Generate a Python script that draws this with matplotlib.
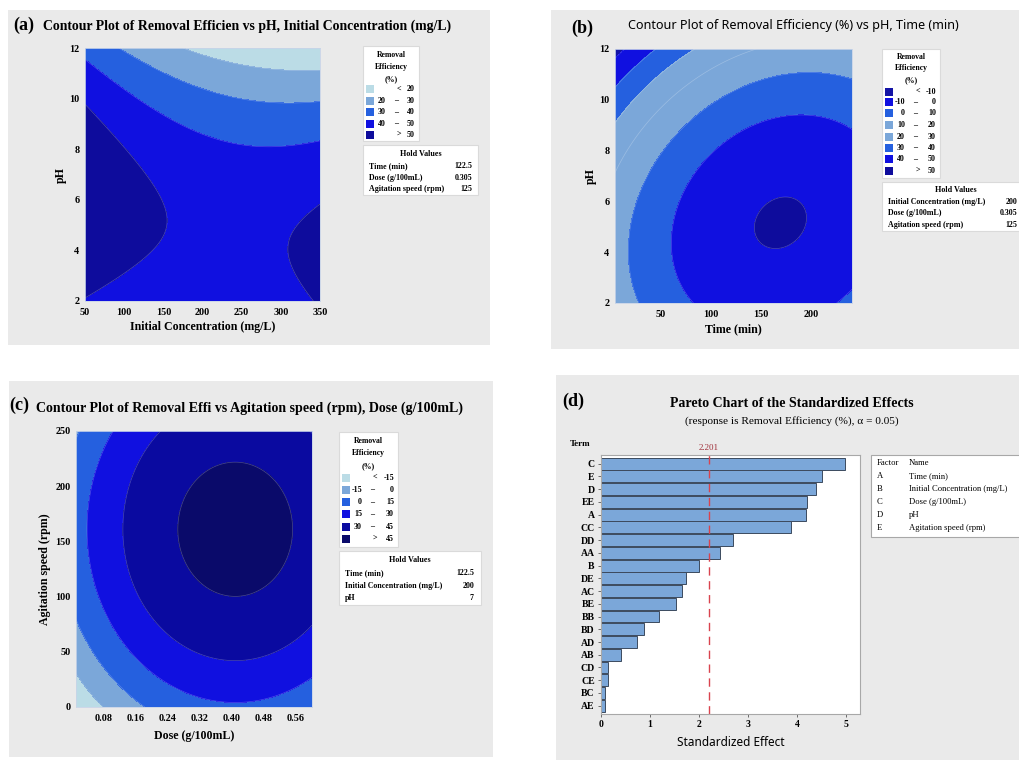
import numpy as np
import matplotlib
matplotlib.use("Agg")
import matplotlib.pyplot as plt
from matplotlib.patches import Rectangle

W, H = 1019, 760

# ---------------- data ----------------
# Panel (a): Initial Concentration (mg/L) x pH ; quadratic model in coded units
conc_range = [50, 350]
ph_range = [2, 12]
coef_a = [45.63, -5.94, -12.9, 6.57, -15.0, -6.6]   # b0, bu, bv, buu, bvv, buv
levels_a = [20, 30, 40, 50]
labels_a = ["< 20", "20 – 30", "30 – 40", "40 – 50", "> 50"]
colors_a = ["#BBDCE6", "#7BA7D9", "#2560DF", "#1010E0", "#0E0C9C"]
hold_a = [("Time (min)", "122.5"), ("Dose (g/100mL)", "0.305"), ("Agitation speed (rpm)", "125")]

# Panel (b): Time (min) x pH
time_range = [5, 240]
coef_b = [45.72, 12.25, -13.36, -12.98, -15.27, 5.34]
levels_b = [-10, 0, 10, 20, 30, 40, 50]
labels_b = ["< -10", "-10 – 0", "0 – 10", "10 – 20", "20 – 30", "30 – 40", "40 – 50", "> 50"]
colors_b = ["#1414A6", "#1010E0", "#2560DF", "#7BA7D9", "#7BA7D9", "#2560DF", "#1010E0", "#0E0C9C"]
hold_b = [("Initial Concentration (mg/L)", "200"), ("Dose (g/100mL)", "0.305"), ("Agitation speed (rpm)", "125")]

# Panel (c): Dose (g/100mL) x Agitation speed (rpm)
dose_range = [0.01, 0.60]
speed_range = [0, 250]
coef_c = [45.71, 15.64, 12.90, -22.4, -22.4, 0.0]
levels_c = [-15, 0, 15, 30, 45]
labels_c = ["< -15", "-15 – 0", "0 – 15", "15 – 30", "30 – 45", "> 45"]
colors_c = ["#BBDCE6", "#7BA7D9", "#2560DF", "#1010E0", "#0A0AA0", "#0A0A6A"]
hold_c = [("Time (min)", "122.5"), ("Initial Concentration (mg/L)", "200"), ("pH", "7")]

# Panel (d): Pareto chart
pareto_terms = ["C", "E", "D", "EE", "A", "CC", "DD", "AA", "B", "DE",
                "AC", "BE", "BB", "BD", "AD", "AB", "CD", "CE", "BC", "AE"]
pareto_effects = [4.99, 4.52, 4.40, 4.20, 4.18, 3.88, 2.70, 2.43, 2.01, 1.73,
                  1.66, 1.54, 1.18, 0.87, 0.74, 0.41, 0.14, 0.14, 0.08, 0.08]
critical_value = 2.201
factor_letters = ["A", "B", "C", "D", "E"]
factor_names = ["Time (min)", "Initial Concentration (mg/L)", "Dose (g/100mL)", "pH", "Agitation speed (rpm)"]

# ---------------- helpers ----------------
SERIF = "Liberation Serif"
SANS = "Noto Sans"
PANEL_BG = "#EAEAEA"

fig = plt.figure(figsize=(W / 100, H / 100), dpi=100)
fig.patch.set_facecolor("white")


def rect(x0, y0, x1, y1):
    return [x0 / W, 1 - y1 / H, (x1 - x0) / W, (y1 - y0) / H]


def fxy(x, y):
    return x / W, 1 - y / H


def ftext(x, y, s, **kw):
    kw.setdefault("family", SERIF)
    fig.text(*fxy(x, y), s, **kw)


def fbox(x0, y0, x1, y1, fc, ec="none", lw=0.8, z=0):
    fig.patches.append(Rectangle(fxy(x0, y1), (x1 - x0) / W, (y1 - y0) / H,
                                 transform=fig.transFigure, facecolor=fc,
                                 edgecolor=ec, linewidth=lw, zorder=z))


def surface(coef, xr, yr, n=300):
    x = np.linspace(xr[0], xr[1], n)
    y = np.linspace(yr[0], yr[1], n)
    X, Y = np.meshgrid(x, y)
    u = (X - (xr[0] + xr[1]) / 2) / ((xr[1] - xr[0]) / 2)
    v = (Y - (yr[0] + yr[1]) / 2) / ((yr[1] - yr[0]) / 2)
    b0, bu, bv, buu, bvv, buv = coef
    Z = b0 + bu * u + bv * v + buu * u * u + bvv * v * v + buv * u * v
    return X, Y, Z


def contour_panel(axr, coef, xr, yr, levels, colors, xticks, yticks, xfmt, xlabel, ylabel,
                  xlabelpad=4, ylabelpad=4):
    ax = fig.add_axes(rect(*axr))
    ax.set_zorder(2)
    X, Y, Z = surface(coef, xr, yr)
    lv = [-1e6] + list(levels) + [1e6]
    ax.contourf(X, Y, Z, levels=lv, colors=colors)
    ax.contour(X, Y, Z, levels=levels, colors="white", linewidths=0.5, alpha=0.25)
    ax.set_xlim(xr)
    ax.set_ylim(yr)
    ax.set_xticks(xticks)
    ax.set_xticklabels([xfmt.format(t) for t in xticks])
    ax.set_yticks(yticks)
    ax.tick_params(axis="x", length=0, pad=5, labelsize=7.3)
    ax.tick_params(axis="y", length=0, pad=4, labelsize=7.3)
    for lab in ax.get_xticklabels() + ax.get_yticklabels():
        lab.set_family(SERIF)
        lab.set_fontweight("bold")
    for s in ax.spines.values():
        s.set_color("#C8D4E8")
        s.set_linewidth(0.6)
    ax.set_xlabel(xlabel, family=SERIF, fontweight="bold", fontsize=8.6, labelpad=xlabelpad)
    ax.set_ylabel(ylabel, family=SERIF, fontweight="bold", fontsize=8.6, labelpad=ylabelpad)
    return ax


def legend_box(x0, y0, x1, title_ys, sw_ys, labels, colors, y1):
    fbox(x0, y0, x1, y1, "white", ec="#DADADA", lw=0.8, z=1)
    xc = (x0 + x1) / 2
    for s, yy in zip(["Removal", "Efficiency", "(%)"], title_ys):
        ftext(xc, yy, s, fontsize=5.6, fontweight="bold", ha="center", va="center", zorder=3)
    for lab, col, yy in zip(labels, colors, sw_ys):
        fbox(x0 + 3, yy - 4, x0 + 11, yy + 4, col, z=2)
        parts = [p.strip() for p in lab.split("–")]
        if len(parts) == 2:
            ftext(x0 + 23, yy, parts[0], fontsize=5.8, fontweight="bold", ha="right", va="center", zorder=3)
            ftext(x0 + 33, yy, "–", fontsize=5.8, fontweight="bold", ha="center", va="center", zorder=3)
            ftext(x1 - 4, yy, parts[1], fontsize=5.8, fontweight="bold", ha="right", va="center", zorder=3)
        else:
            sym, val = lab.split(" ")
            ftext(x0 + 36, yy, sym, fontsize=5.8, fontweight="bold", ha="center", va="center", zorder=3)
            ftext(x1 - 4, yy, val, fontsize=5.8, fontweight="bold", ha="right", va="center", zorder=3)


def hold_box(x0, y0, x1, y1, rows, ys, title_y, vx):
    fbox(x0, y0, x1, y1, "white", ec="#DADADA", lw=0.8, z=1)
    ftext((x0 + x1) / 2, title_y, "Hold Values", fontsize=5.9, fontweight="bold", ha="center", va="center", zorder=3)
    for (name, val), yy in zip(rows, ys):
        ftext(x0 + 6, yy, name, fontsize=5.7, fontweight="bold", ha="left", va="center", zorder=3)
        ftext(vx, yy, val, fontsize=5.7, fontweight="bold", ha="right", va="center", zorder=3)


# ---------------- panel backgrounds ----------------
fbox(8, 10, 490, 345, PANEL_BG, z=-10)
fbox(551, 10, 1019, 349, PANEL_BG, z=-10)
fbox(9, 381, 493, 757, PANEL_BG, z=-10)
fbox(556, 375, 1019, 760, PANEL_BG, z=-10)

# ---------------- panel (a) ----------------
ftext(13, 25, "(a)", fontsize=13, fontweight="bold", ha="left", va="center")
ftext(43, 26, "Contour Plot of Removal Efficien vs pH, Initial Concentration (mg/L)",
      fontsize=9.95, fontweight="bold", ha="left", va="center")
contour_panel((85, 48, 320, 301), coef_a, conc_range, ph_range, levels_a, colors_a,
              [50, 100, 150, 200, 250, 300, 350], [2, 4, 6, 8, 10, 12], "{:g}",
              "Initial Concentration (mg/L)", "pH", xlabelpad=3, ylabelpad=2)
legend_box(363, 46, 419, [55, 67, 79], [89.3, 100.7, 112, 123.7, 134.7], labels_a, colors_a, 141)
hold_box(363, 145, 478, 195, hold_a, [166, 177.5, 189], 154, 472)

# ---------------- panel (b) ----------------
ftext(571, 28, "(b)", fontsize=13, fontweight="bold", ha="left", va="center")
fig.text(*fxy(628, 26), "Contour Plot of Removal Efficiency (%) vs pH, Time (min)",
         family=SANS, fontsize=9.05, ha="left", va="center")
contour_panel((615, 49, 852, 303), coef_b, time_range, ph_range, levels_b, colors_b,
              [50, 100, 150, 200], [2, 4, 6, 8, 10, 12], "{:g}",
              "Time (min)", "pH", xlabelpad=3, ylabelpad=2)
legend_box(882, 49, 940, [57, 68.5, 80], [91.7, 102, 113, 125.3, 136.7, 147.7, 159, 170.7],
           labels_b, colors_b, 178)
hold_box(882, 182, 1030, 231, hold_b, [201.7, 213.3, 225], 190, 1017)

# ---------------- panel (c) ----------------
ftext(9, 405, "(c)", fontsize=13, fontweight="bold", ha="left", va="center")
ftext(36, 408, "Contour Plot of Removal Effi vs Agitation speed (rpm), Dose (g/100mL)",
      fontsize=10.1, fontweight="bold", ha="left", va="center")
contour_panel((76, 431, 312, 707), coef_c, dose_range, speed_range, levels_c, colors_c,
              [0.08, 0.16, 0.24, 0.32, 0.40, 0.48, 0.56], [0, 50, 100, 150, 200, 250], "{:.2f}",
              "Dose (g/100mL)", "Agitation speed (rpm)", xlabelpad=5, ylabelpad=3)
legend_box(339, 432, 398, [440.7, 453, 466], [477.7, 489.7, 502.3, 514.3, 526.7, 539],
           labels_c, colors_c, 547)
hold_box(339, 551, 481, 605, hold_c, [572.7, 585.7, 598], 560, 474)

# ---------------- panel (d) ----------------
ftext(562, 401, "(d)", fontsize=13, fontweight="bold", ha="left", va="center")
ftext(792, 403, "Pareto Chart of the Standardized Effects", fontsize=10, fontweight="bold",
      ha="center", va="center")
ftext(792, 421, "(response is Removal Efficiency (%), \u03b1 = 0.05)", fontsize=8.1,
      ha="center", va="center")
ftext(570, 444, "Term", fontsize=6.5, fontweight="bold", ha="left", va="center")

axd = fig.add_axes(rect(601, 455, 860, 714))
axd.set_zorder(2)
axd.set_facecolor("white")
ypos = np.arange(len(pareto_terms))
axd.barh(ypos, pareto_effects, height=0.93, color="#7BA7D9", edgecolor="#3C4A5E", linewidth=0.7)
axd.axvline(critical_value, color="#D9434E", linestyle=(0, (6, 4)), linewidth=1.0)
axd.set_xlim(0, 5.29)
axd.set_ylim(len(pareto_terms) - 1 + 0.65, -0.68)
axd.set_yticks(ypos)
axd.set_yticklabels(pareto_terms)
axd.set_xticks([0, 1, 2, 3, 4, 5])
axd.tick_params(axis="both", labelsize=7, length=2.5, width=0.6, color="#555555", pad=2)
for lab in axd.get_xticklabels() + axd.get_yticklabels():
    lab.set_family(SERIF)
    lab.set_fontweight("bold")
for s in axd.spines.values():
    s.set_color("#A8A8A8")
    s.set_linewidth(0.8)
axd.set_xlabel("Standardized Effect", family=SANS, fontsize=8.5, labelpad=5)
axd.text(critical_value, 1.01, f"{critical_value:.3f}", transform=axd.get_xaxis_transform(),
         ha="center", va="bottom", family=SERIF, fontsize=6.5, color="#A0303A")

# factor box
fbox(871, 455, 1030, 537, "white", ec="#A8A8A8", lw=0.8, z=1)
ftext(877, 462.7, "Factor", fontsize=6.2, ha="left", va="center", zorder=3)
ftext(909, 462.7, "Name", fontsize=6.2, ha="left", va="center", zorder=3)
for i, (l, nm) in enumerate(zip(factor_letters, factor_names)):
    yy = 476 + i * 12.9
    ftext(877, yy, l, fontsize=6.2, ha="left", va="center", zorder=3)
    ftext(909, yy, nm, fontsize=6.2, ha="left", va="center", zorder=3)

fig.savefig("out.png", dpi=100, facecolor="white")
